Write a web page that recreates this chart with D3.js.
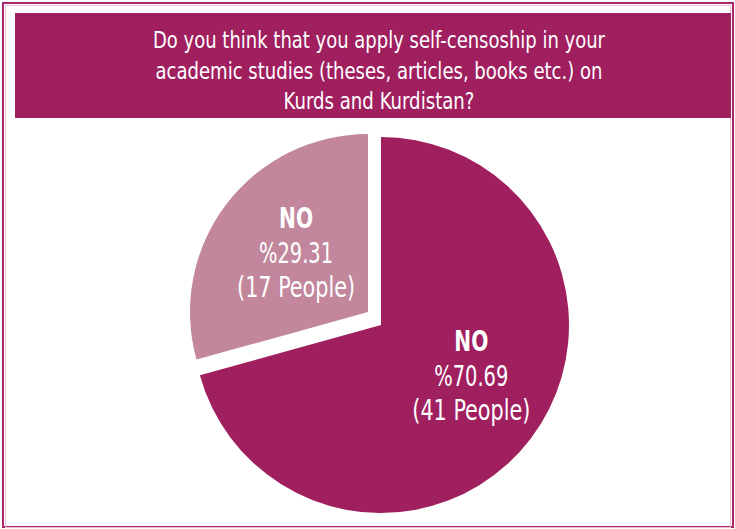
<!DOCTYPE html>
<html>
<head>
<meta charset="utf-8">
<script src="https://cdn.jsdelivr.net/npm/d3@7"></script>
<style>
  html, body { margin: 0; padding: 0; background: #fff; }
  svg { display: block; }
</style>
</head>
<body>
<svg id="chart" width="735" height="529"></svg>
<script>
// ---- data ----
const titleLines = [
  "Do you think that you apply self-censoship in your",
  "academic studies (theses, articles, books etc.) on",
  "Kurds and Kurdistan?"
];
const categories = ["NO", "NO"];
const counts = [41, 17];
const percents = ["70.69", "29.31"];
const colors = ["#a01f5f", "#c2879c"];

// ---- layout ----
const W = 735, H = 529;
const svg = d3.select("#chart");

// outer frame
svg.append("rect").attr("x", 3).attr("y", 3).attr("width", W - 5).attr("height", H - 5)
  .attr("fill", "none").attr("stroke", "#a8276a").attr("stroke-width", 2);
svg.append("rect").attr("x", 5.5).attr("y", 5.5).attr("width", W - 10).attr("height", H - 7)
  .attr("fill", "none").attr("stroke", "#ebc0d4").attr("stroke-width", 1);

// title box
svg.append("rect").attr("x", 15).attr("y", 13).attr("width", 716).attr("height", 105)
  .attr("fill", "#a01f5f");
const titleWidths = [452, 447, 191];
const condensed = "'Liberation Sans Narrow', 'DejaVu Sans Condensed', 'Roboto', sans-serif";
svg.append("g").selectAll("text").data(titleLines).join("text")
  .attr("x", 379)
  .attr("y", (d, i) => 48 + i * 30.5)
  .attr("text-anchor", "middle")
  .attr("fill", "#fff")
  .attr("font-family", condensed)
  .attr("font-size", 23)
  .attr("font-weight", 500)
  .attr("textLength", (d, i) => titleWidths[i])
  .attr("lengthAdjust", "spacingAndGlyphs")
  .text(d => d);

// pie
const cx = 376, cy = 320;
const radii = [188, 178];
const offsets = [[5, 5], [-8, -8]];
const pie = d3.pie().sort(null).value(d => d)(counts);
const g = svg.append("g").attr("transform", `translate(${cx},${cy})`);

const slices = g.selectAll("g.slice").data(pie).join("g")
  .attr("class", "slice")
  .attr("transform", (d, i) => `translate(${offsets[i][0]},${offsets[i][1]})`);

slices.append("path")
  .attr("d", (d, i) => d3.arc().innerRadius(0).outerRadius(radii[i])(d))
  .attr("fill", (d, i) => colors[i]);

slices.each(function (d, i) {
  const r = radii[i] * 0.55;
  const [lx, ly] = d3.arc().innerRadius(r).outerRadius(r).centroid(d);
  const t = d3.select(this).append("g").attr("transform", `translate(${lx + (i === 0 ? 8 : 6)},${ly + (i === 0 ? -12 : 0)})`);
  t.append("text").attr("y", -25).attr("text-anchor", "middle").attr("fill", "#fff")
    .attr("font-family", condensed).attr("font-size", 29).attr("font-weight", "bold")
    .attr("textLength", 34).attr("lengthAdjust", "spacingAndGlyphs")
    .text(categories[i]);
  t.append("text").attr("y", 10).attr("text-anchor", "middle").attr("fill", "#fff")
    .attr("font-family", condensed).attr("font-size", 29)
    .attr("textLength", 74).attr("lengthAdjust", "spacingAndGlyphs")
    .text("%" + percents[i]);
  t.append("text").attr("y", 44).attr("text-anchor", "middle").attr("fill", "#fff")
    .attr("font-family", condensed).attr("font-size", 29)
    .attr("textLength", 118).attr("lengthAdjust", "spacingAndGlyphs")
    .text(`(${counts[i]} People)`);
});
</script>
</body>
</html>
